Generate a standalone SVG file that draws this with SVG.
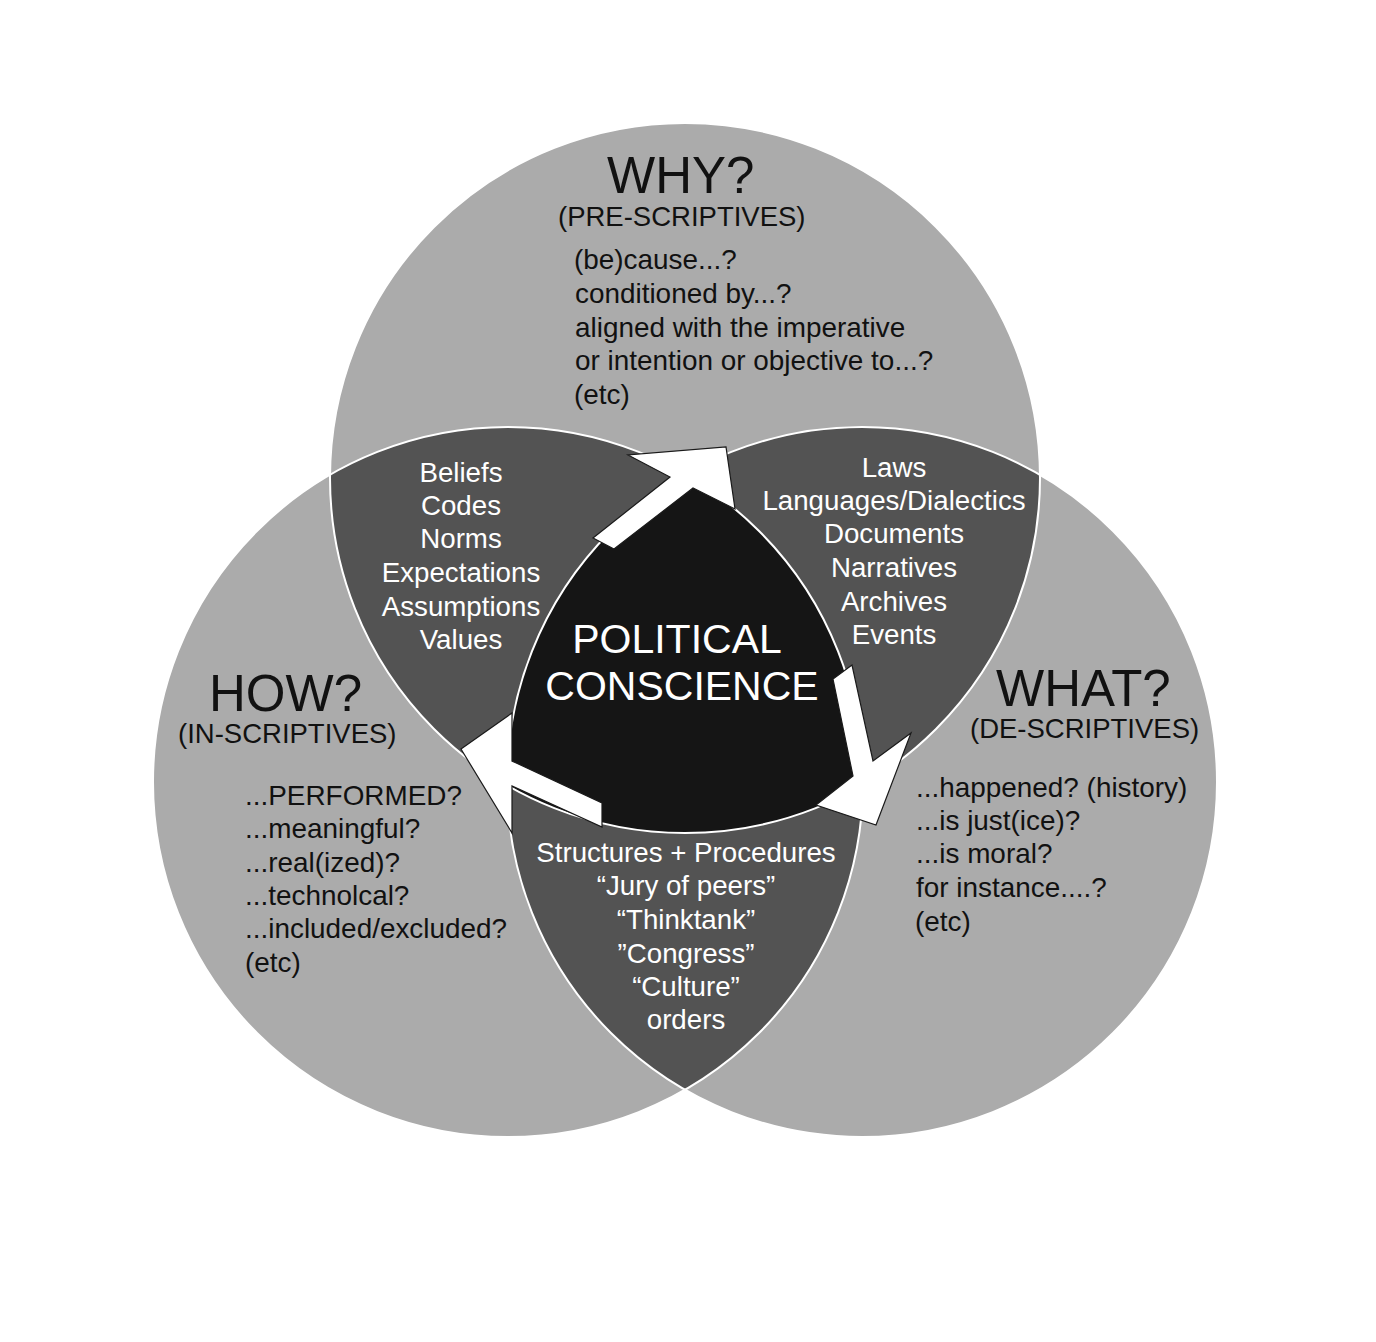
<svg xmlns="http://www.w3.org/2000/svg" width="1376" height="1342" viewBox="0 0 1376 1342">
<style>
.lt{fill:#ababab}
.dk{fill:#535353}
.bk{fill:#151515}
.ol{fill:none;stroke:#ffffff;stroke-width:2}
.arrow{fill:#ffffff;stroke:#1a1a1a;stroke-width:1.2;stroke-linejoin:miter}
text{font-family:"Liberation Sans",Arial,Helvetica,sans-serif}
.h{font-size:51px;fill:#111111}
.sub{font-size:27.5px;fill:#111111}
.body{font-size:27.9px;fill:#111111}
.wb{font-size:27.7px;fill:#ffffff;text-anchor:middle}
.ctr{font-size:41px;fill:#ffffff;text-anchor:middle}
</style>
<defs>
<clipPath id="cT"><circle cx="685" cy="478" r="355"/></clipPath>
<clipPath id="cL"><circle cx="508" cy="782" r="355"/></clipPath>
<clipPath id="cR"><circle cx="862" cy="782" r="355"/></clipPath>
</defs>
<rect width="1376" height="1342" fill="#ffffff"/>
<g id="circle-why"><circle class="lt" cx="685" cy="478" r="355"/></g>
<g id="circle-how"><circle class="lt" cx="508" cy="782" r="355"/></g>
<g id="circle-what"><circle class="lt" cx="862" cy="782" r="355"/></g>
<g id="overlap-why-how"><circle class="dk" cx="508" cy="782" r="355" clip-path="url(#cT)"/></g>
<g id="overlap-why-what"><circle class="dk" cx="862" cy="782" r="355" clip-path="url(#cT)"/></g>
<g id="overlap-how-what"><circle class="dk" cx="862" cy="782" r="355" clip-path="url(#cL)"/></g>
<g id="center"><path class="bk" d="M 685 474 A 355 355 0 0 0 507 785 A 355 355 0 0 0 863 785 A 355 355 0 0 0 685 474 Z"/></g>
<g id="outlines">
<circle class="ol" cx="685" cy="478" r="355"/>
<circle class="ol" cx="508" cy="782" r="355"/>
<circle class="ol" cx="862" cy="782" r="355"/>
</g>
<g id="connectors">
<polygon class="arrow" points="593,538 670,477 628,455 726,447 735,509 693,488 614,549"/>
<polygon class="arrow" points="833,679 852,665 873,761 911,733 876,825 816,805 853,776"/>
<polygon class="arrow" points="461,749 512,713 512,761 602,803 602,827 512,786 512,833"/>
</g>
<g id="label-why">
<text class="h" x="607" y="193">WHY?</text>
<text class="sub" x="558" y="226">(PRE-SCRIPTIVES)</text>
<text class="body" x="574" y="269">(be)cause...?</text>
<text class="body" x="575" y="303">conditioned by...?</text>
<text class="body" x="575" y="337">aligned with the imperative</text>
<text class="body" x="575" y="370">or intention or objective to...?</text>
<text class="body" x="574" y="404">(etc)</text>
</g>
<g id="label-how">
<text class="h" x="209" y="711">HOW?</text>
<text class="sub" x="178" y="743">(IN-SCRIPTIVES)</text>
<text class="body" x="245" y="805">...PERFORMED?</text>
<text class="body" x="245" y="838">...meaningful?</text>
<text class="body" x="245" y="872">...real(ized)?</text>
<text class="body" x="245" y="905">...technolcal?</text>
<text class="body" x="245" y="938">...included/excluded?</text>
<text class="body" x="245" y="972">(etc)</text>
</g>
<g id="label-what">
<text class="h" x="996" y="706">WHAT?</text>
<text class="sub" x="970" y="738">(DE-SCRIPTIVES)</text>
<text class="body" x="916" y="797">...happened? (history)</text>
<text class="body" x="916" y="830">...is just(ice)?</text>
<text class="body" x="916" y="863">...is moral?</text>
<text class="body" x="916" y="897">for instance....?</text>
<text class="body" x="915" y="931">(etc)</text>
</g>
<g id="label-why-how">
<text class="wb" x="461" y="482">Beliefs</text>
<text class="wb" x="461" y="515">Codes</text>
<text class="wb" x="461" y="548">Norms</text>
<text class="wb" x="461" y="582">Expectations</text>
<text class="wb" x="461" y="616">Assumptions</text>
<text class="wb" x="461" y="649">Values</text>
</g>
<g id="label-why-what">
<text class="wb" x="894" y="477">Laws</text>
<text class="wb" x="894" y="510">Languages/Dialectics</text>
<text class="wb" x="894" y="543">Documents</text>
<text class="wb" x="894" y="577">Narratives</text>
<text class="wb" x="894" y="611">Archives</text>
<text class="wb" x="894" y="644">Events</text>
</g>
<g id="label-how-what">
<text class="wb" x="686" y="862">Structures + Procedures</text>
<text class="wb" x="686" y="895">“Jury of peers”</text>
<text class="wb" x="686" y="929">“Thinktank”</text>
<text class="wb" x="686" y="963">”Congress”</text>
<text class="wb" x="686" y="996">“Culture”</text>
<text class="wb" x="686" y="1029">orders</text>
</g>
<g id="label-center">
<text class="ctr" x="677" y="653">POLITICAL</text>
<text class="ctr" x="682" y="700">CONSCIENCE</text>
</g>
</svg>
